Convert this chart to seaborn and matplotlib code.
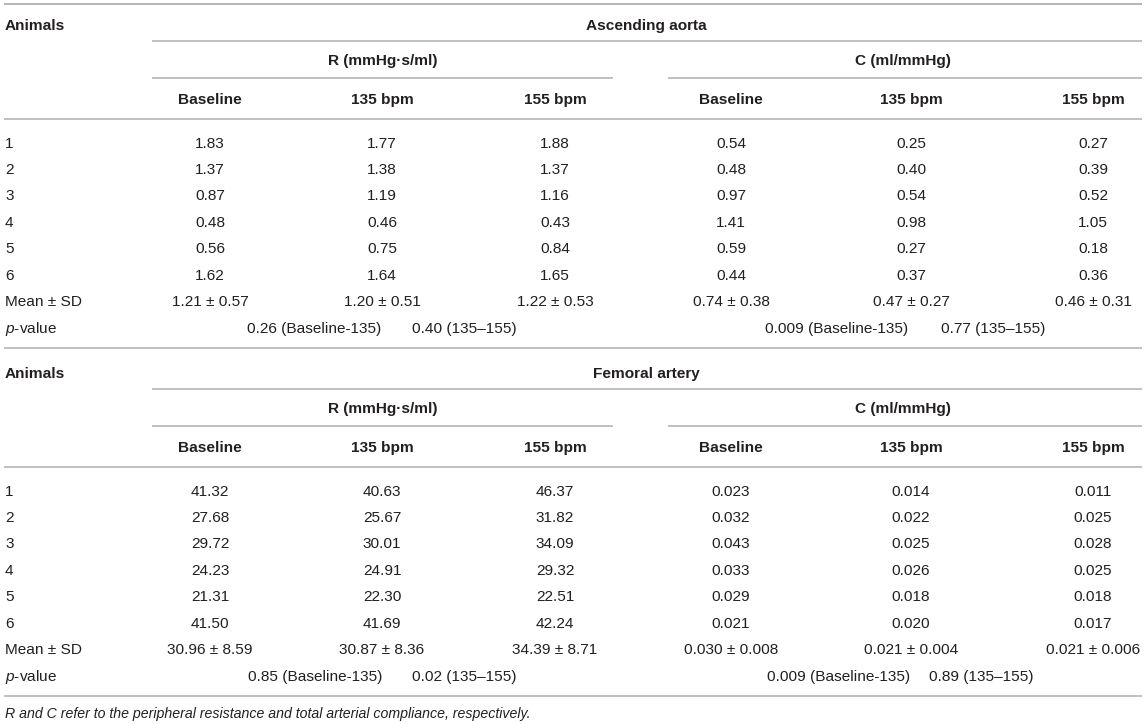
import matplotlib.pyplot as plt
import seaborn as sns

# table contents
animals = ["1", "2", "3", "4", "5", "6"]
conditions = ["Baseline", "135 bpm", "155 bpm"]
comparisons = ["Baseline-135", "135\u2013155"]

aorta_R = [[1.83, 1.37, 0.87, 0.48, 0.56, 1.62],
           [1.77, 1.38, 1.19, 0.46, 0.75, 1.64],
           [1.88, 1.37, 1.16, 0.43, 0.84, 1.65]]
aorta_C = [[0.54, 0.48, 0.97, 1.41, 0.59, 0.44],
           [0.25, 0.40, 0.54, 0.98, 0.27, 0.37],
           [0.27, 0.39, 0.52, 1.05, 0.18, 0.36]]
aorta_mean = [1.21, 1.20, 1.22, 0.74, 0.47, 0.46]
aorta_sd = [0.57, 0.51, 0.53, 0.38, 0.27, 0.31]
aorta_p = ["0.26", "0.40", "0.009", "0.77"]

femoral_R = [[41.32, 27.68, 29.72, 24.23, 21.31, 41.50],
             [40.63, 25.67, 30.01, 24.91, 22.30, 41.69],
             [46.37, 31.82, 34.09, 29.32, 22.51, 42.24]]
femoral_C = [[0.023, 0.032, 0.043, 0.033, 0.029, 0.021],
             [0.014, 0.022, 0.025, 0.026, 0.018, 0.020],
             [0.011, 0.025, 0.028, 0.025, 0.018, 0.017]]
femoral_mean = [30.96, 30.87, 34.39, 0.030, 0.021, 0.021]
femoral_sd = [8.59, 8.36, 8.71, 0.008, 0.004, 0.006]
femoral_p = ["0.85", "0.02", "0.009", "0.89"]

footnote = "R and C refer to the peripheral resistance and total arterial compliance, respectively."

sns.set_theme(style="white")
plt.rcParams["font.family"] = ["Liberation Sans", "DejaVu Sans"]
plt.rcParams["mathtext.fontset"] = "custom"
plt.rcParams["mathtext.rm"] = "Liberation Sans"
plt.rcParams["mathtext.it"] = "Liberation Sans:italic"

TXT = "#231f20"
RULE = "#b5b5b5"
FS = 11.1
col_x = [210, 382, 555, 731, 911, 1093]
row_step = 26.45


def put(ax, x, y, s, ha="center", bold=False, size=FS, italic=False):
    # y is the visual middle of the digits, shift to baseline
    ax.text(x, y + 0.36 * size * 100 / 72, s, ha=ha, va="baseline", color=TXT,
            fontsize=size, fontweight="bold" if bold else "normal",
            fontstyle="italic" if italic else "normal")


def draw_block(ax, y0, site, R, C, means, sds, pvals, r_fmt, c_fmt, p_x):
    put(ax, 5, y0 + 24, "Animals", ha="left", bold=True)
    put(ax, 646, y0 + 24, site, bold=True)
    ax.hlines(y0 + 41, 152, 1142, color=RULE, lw=1.2)
    put(ax, 383, y0 + 59, "R (mmHg\u00b7s/ml)", bold=True)
    put(ax, 903, y0 + 59, "C (ml/mmHg)", bold=True)
    ax.hlines(y0 + 78, 152, 613, color=RULE, lw=1.2)
    ax.hlines(y0 + 78, 668, 1142, color=RULE, lw=1.2)
    for i in range(6):
        put(ax, col_x[i], y0 + 98, conditions[i % 3], bold=True)
    ax.hlines(y0 + 119, 4, 1142, color=RULE, lw=1.2)

    for j, a in enumerate(animals):
        y = y0 + 142 + j * row_step
        put(ax, 5, y, a, ha="left")
        for k in range(3):
            put(ax, col_x[k], y, format(R[k][j], r_fmt))
            put(ax, col_x[k + 3], y, format(C[k][j], c_fmt))

    y = y0 + 142 + 6 * row_step
    put(ax, 5, y, "Mean \u00b1 SD", ha="left")
    for k in range(6):
        fmt = r_fmt if k < 3 else c_fmt
        put(ax, col_x[k], y, format(means[k], fmt) + " \u00b1 " + format(sds[k], fmt))

    y = y0 + 142 + 7 * row_step
    put(ax, 5, y, r"$p$-value", ha="left")
    for k in range(4):
        put(ax, p_x[k], y, pvals[k] + " (" + comparisons[k % 2] + ")", ha="left")


fig = plt.figure(figsize=(11.45, 7.24), dpi=100)
ax = fig.add_axes([0, 0, 1, 1])
ax.set_xlim(0, 1145)
ax.set_ylim(724, 0)
ax.axis("off")

ax.hlines(4, 4, 1142, color=RULE, lw=1.4)
draw_block(ax, 0, "Ascending aorta", aorta_R, aorta_C, aorta_mean, aorta_sd,
           aorta_p, ".2f", ".2f", [247, 412, 765, 941])
ax.hlines(348, 4, 1142, color=RULE, lw=1.2)
draw_block(ax, 348, "Femoral artery", femoral_R, femoral_C, femoral_mean, femoral_sd,
           femoral_p, ".2f", ".3f", [248, 412, 767, 929])
ax.hlines(696, 4, 1142, color=RULE, lw=1.2)
put(ax, 5, 713, footnote, ha="left", size=10.2, italic=True)

fig.savefig("out.png", dpi=100)
